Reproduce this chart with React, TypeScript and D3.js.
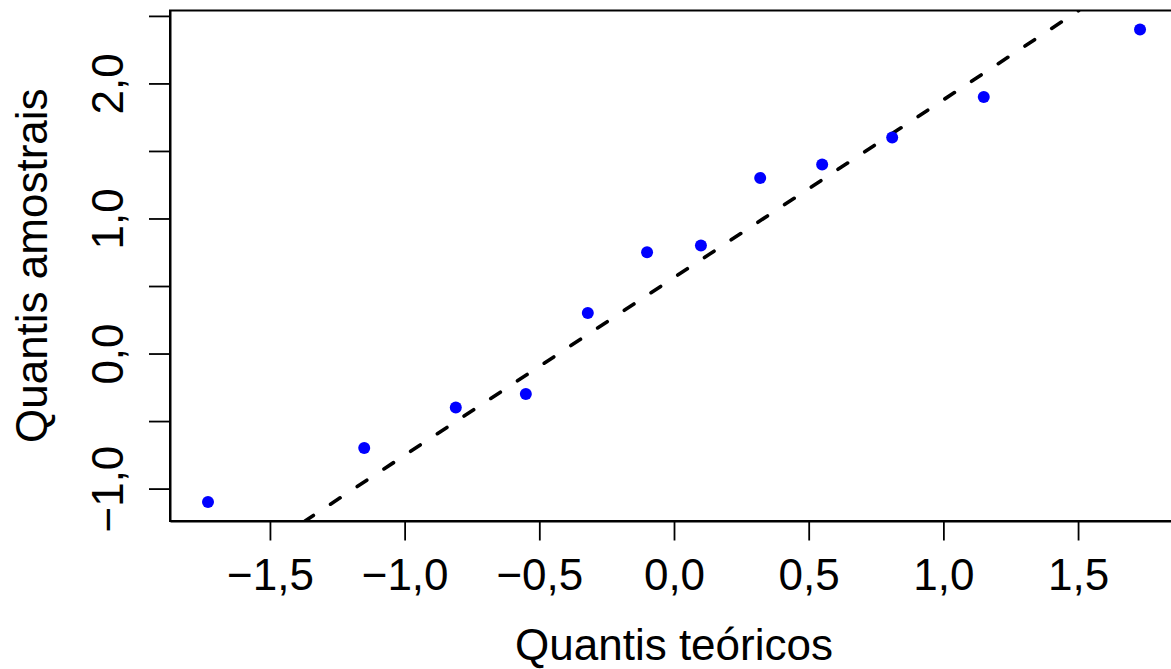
import React, { useRef, useEffect } from 'react';
import * as d3 from 'd3';

// Theoretical normal quantiles (x) and sorted sample values (y)
const theoretical = [-1.73, -1.15, -0.81, -0.55, -0.32, -0.1, 0.1, 0.32, 0.55, 0.81, 1.15, 1.73];
const sample = [-1.1, -0.7, -0.4, -0.3, 0.3, 0.75, 0.8, 1.3, 1.4, 1.6, 1.9, 2.4];

// qqline (through the quartiles)
const lineIntercept = 0.5625;
const lineSlope = 1.316;

const xTicks = [-1.5, -1.0, -0.5, 0.0, 0.5, 1.0, 1.5];
const xTickLabels = ['−1,5', '−1,0', '−0,5', '0,0', '0,5', '1,0', '1,5'];
const yTicks = [-1.0, -0.5, 0.0, 0.5, 1.0, 1.5, 2.0, 2.5];
const yTickLabels = ['−1,0', '', '0,0', '', '1,0', '', '2,0', ''];

const xTitle = 'Quantis teóricos';
const yTitle = 'Quantis amostrais';

const QQPlot = () => {
  const ref = useRef<HTMLDivElement>(null);

  useEffect(() => {
    const width = 1171;
    const height = 669;
    const plot = { left: 170, right: 1178, top: 10.5, bottom: 521 };
    const font = '"Liberation Sans", Arial, Helvetica, sans-serif';
    const fontSize = 44;

    d3.select(ref.current).selectAll('*').remove();

    const svg = d3
      .select(ref.current)
      .append('svg')
      .attr('width', width)
      .attr('height', height)
      .style('position', 'absolute')
      .style('left', '0px')
      .style('top', '0px')
      .style('background', '#fff');

    // R-style 4% extension of the data range
    const x = d3.scaleLinear().domain([-1.871, 1.871]).range([plot.left, plot.right]);
    const y = d3.scaleLinear().domain([-1.24, 2.54]).range([plot.bottom, plot.top]);

    svg
      .append('defs')
      .append('clipPath')
      .attr('id', 'plot-clip')
      .append('rect')
      .attr('x', plot.left)
      .attr('y', plot.top)
      .attr('width', plot.right - plot.left)
      .attr('height', plot.bottom - plot.top);

    // qq line, drawn from the bottom edge to the top edge of the plot region
    const [y0, y1] = y.domain();
    const lx0 = (y0 - lineIntercept) / lineSlope;
    const lx1 = (y1 - lineIntercept) / lineSlope;
    svg
      .append('line')
      .attr('clip-path', 'url(#plot-clip)')
      .attr('x1', x(lx0))
      .attr('y1', y(y0))
      .attr('x2', x(lx1))
      .attr('y2', y(y1))
      .attr('stroke', '#000')
      .attr('stroke-width', 3.6)
      .attr('stroke-linecap', 'round')
      .attr('stroke-dasharray', '11.5 20.5')
      .attr('stroke-dashoffset', 1.5);

    // points
    svg
      .append('g')
      .selectAll('circle')
      .data(theoretical)
      .enter()
      .append('circle')
      .attr('cx', (d) => x(d))
      .attr('cy', (_, i) => y(sample[i]))
      .attr('r', 6)
      .attr('fill', '#0000ff');

    // box
    svg
      .append('rect')
      .attr('x', plot.left)
      .attr('y', plot.top)
      .attr('width', plot.right - plot.left)
      .attr('height', plot.bottom - plot.top)
      .attr('fill', 'none')
      .attr('stroke', '#000')
      .attr('stroke-width', 2);

    // x axis
    const xAxis = svg
      .append('g')
      .attr('transform', `translate(0,${plot.bottom})`)
      .call(
        d3
          .axisBottom(x)
          .tickValues(xTicks)
          .tickSize(19.5)
          .tickSizeOuter(0)
          .tickFormat((_, i) => xTickLabels[i])
      );
    xAxis.select('.domain').attr('stroke-width', 2);
    xAxis.selectAll('.tick line').attr('stroke-width', 1.8);
    xAxis
      .selectAll('.tick text')
      .attr('font-family', font)
      .attr('font-size', fontSize)
      .attr('fill', '#000')
      .attr('dy', null)
      .attr('y', 69);

    // y axis
    const yAxis = svg
      .append('g')
      .attr('transform', `translate(${plot.left},0)`)
      .call(
        d3
          .axisLeft(y)
          .tickValues(yTicks)
          .tickSize(21)
          .tickSizeOuter(0)
          .tickFormat((_, i) => yTickLabels[i])
      );
    yAxis.select('.domain').attr('stroke-width', 2);
    yAxis.selectAll('.tick line').attr('stroke-width', 1.8);
    yAxis
      .selectAll('.tick text')
      .attr('font-family', font)
      .attr('font-size', fontSize)
      .attr('fill', '#000')
      .attr('text-anchor', 'middle')
      .attr('dy', null)
      .attr('x', null)
      .attr('transform', 'translate(-47,0) rotate(-90)');

    // axis titles
    svg
      .append('text')
      .attr('x', x(0))
      .attr('y', 660)
      .attr('text-anchor', 'middle')
      .attr('font-family', font)
      .attr('font-size', fontSize)
      .text(xTitle);

    svg
      .append('text')
      .attr('transform', `translate(47,${(plot.top + plot.bottom) / 2}) rotate(-90)`)
      .attr('text-anchor', 'middle')
      .attr('font-family', font)
      .attr('font-size', fontSize)
      .text(yTitle);
  }, []);

  return <div ref={ref}></div>;
};

export default function App() {
  return <QQPlot />;
}
